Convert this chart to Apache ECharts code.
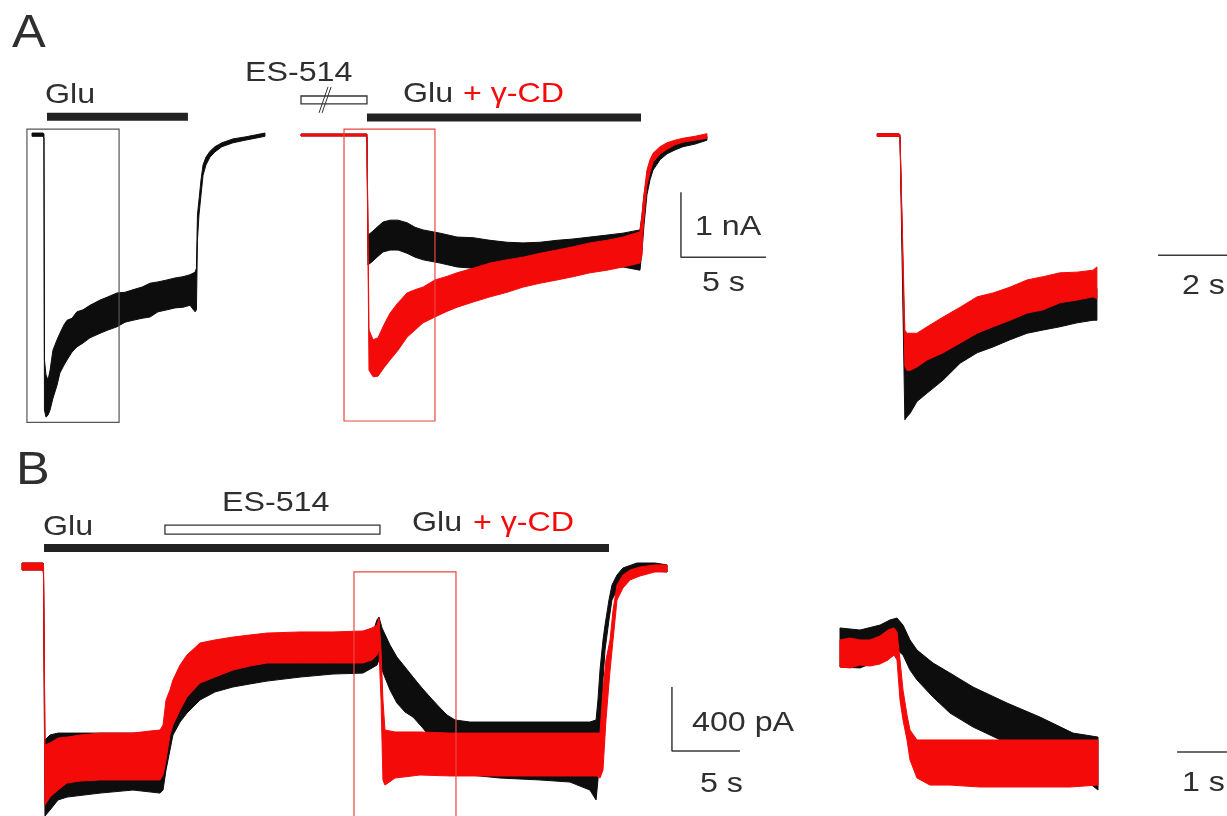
<!DOCTYPE html>
<html>
<head>
<meta charset="utf-8">
<script src="https://cdn.jsdelivr.net/npm/echarts@6/dist/echarts.min.js"></script>
<style>
  html, body { margin: 0; padding: 0; background: #ffffff; }
  #chart { width: 1227px; height: 816px; }
</style>
</head>
<body>
<div id="chart"></div>
<script>
// ---------------- DATA (time in s, current in nA for panel A, pA for panel B) ----------------
// Each noisy trace is described by its upper and lower envelope (hi / lo).

// Panel A, left sweep: Glu alone (black)
const aLeftTime = [0.12, 0.76, 0.82, 0.85, 0.94, 1.06, 1.18, 1.35, 1.59, 1.76, 2.00, 2.18, 2.47, 2.76, 3.12, 3.53, 4.12, 4.59, 5.12, 5.59, 6.06, 6.59, 7.06, 7.53, 8.06, 8.53, 9.00, 9.41, 9.71, 9.79, 9.85, 9.94, 10.06, 10.18, 10.35, 10.59, 10.88, 11.29, 11.94, 12.65, 13.24, 13.82];
const aLeftHi = [0.03, 0.03, 0.02, -3.46, -3.69, -3.77, -3.62, -3.31, -3.15, -3.05, -2.92, -2.85, -2.82, -2.72, -2.69, -2.62, -2.54, -2.49, -2.43, -2.42, -2.38, -2.34, -2.28, -2.26, -2.23, -2.20, -2.18, -2.15, -2.11, -2.05, -1.23, -1.00, -0.69, -0.46, -0.34, -0.25, -0.18, -0.12, -0.06, -0.03, 0.00, 0.03];
const aLeftLo = [-0.02, -0.02, -0.05, -4.23, -4.34, -4.31, -4.23, -4.05, -3.85, -3.66, -3.54, -3.46, -3.34, -3.26, -3.20, -3.12, -3.05, -3.00, -2.95, -2.88, -2.85, -2.82, -2.80, -2.72, -2.69, -2.66, -2.65, -2.62, -2.72, -2.69, -1.62, -1.23, -0.92, -0.62, -0.46, -0.34, -0.26, -0.18, -0.12, -0.08, -0.05, -0.02];

// Panel A, middle sweep after ES-514: Glu (black) and Glu + gamma-CD (red)
const aMidBlackTime = [0, 3.82, 3.88, 3.94, 4.18, 4.47, 4.82, 5.24, 5.71, 6.24, 6.71, 7.18, 8.18, 9.18, 10.12, 11.12, 12.12, 13.06, 14.06, 15.06, 16.0, 17.0, 18.0, 18.94, 19.94, 20.06, 20.18, 20.35, 20.53, 20.71, 21.12, 21.53, 22.0, 22.47, 23.18, 23.88];
const aMidBlackHi = [0.015, 0.015, 0.015, -1.54, -1.49, -1.42, -1.34, -1.31, -1.31, -1.35, -1.42, -1.46, -1.51, -1.57, -1.58, -1.62, -1.65, -1.66, -1.65, -1.62, -1.60, -1.57, -1.54, -1.51, -1.46, -1.23, -0.92, -0.65, -0.49, -0.38, -0.26, -0.18, -0.14, -0.11, -0.06, -0.02];
const aMidBlackLo = [-0.015, -0.015, -0.04, -2.00, -1.95, -1.88, -1.80, -1.77, -1.77, -1.82, -1.88, -1.92, -1.97, -2.03, -2.05, -2.08, -2.11, -2.12, -2.12, -2.12, -2.11, -2.08, -2.05, -2.03, -2.08, -1.77, -1.38, -0.92, -0.69, -0.54, -0.38, -0.29, -0.23, -0.18, -0.14, -0.08];

const aMidRedTime = [0, 3.82, 3.88, 4.0, 4.24, 4.53, 4.88, 5.24, 5.71, 6.24, 6.71, 7.18, 7.88, 8.53, 9.18, 10.12, 11.12, 12.12, 13.06, 14.06, 15.06, 16.0, 17.0, 18.0, 18.94, 19.94, 20.06, 20.12, 20.24, 20.35, 20.53, 20.71, 21.12, 21.53, 22.0, 22.47, 23.18, 23.88];
const aMidRedHi = [0.015, 0.015, 0.015, -3.00, -3.15, -3.12, -2.92, -2.74, -2.58, -2.43, -2.38, -2.34, -2.23, -2.18, -2.12, -2.05, -1.97, -1.92, -1.88, -1.82, -1.77, -1.72, -1.66, -1.62, -1.57, -1.49, -1.23, -1.05, -0.77, -0.54, -0.38, -0.28, -0.18, -0.12, -0.08, -0.05, -0.02, 0.02];
const aMidRedLo = [-0.015, -0.015, -0.04, -3.62, -3.72, -3.71, -3.58, -3.46, -3.31, -3.11, -3.00, -2.89, -2.80, -2.72, -2.65, -2.57, -2.49, -2.42, -2.34, -2.28, -2.23, -2.18, -2.12, -2.08, -2.03, -1.97, -1.85, -1.46, -1.08, -0.77, -0.57, -0.42, -0.29, -0.22, -0.15, -0.11, -0.08, -0.05];

// Panel A, inset (time from Glu onset)
const aInsetTime = [-0.47, -0.02, 0, 0.10, 0.14, 0.21, 0.35, 0.56, 0.89, 1.24, 1.59, 1.92, 2.27, 2.62, 2.95, 3.30, 3.65, 3.98, 4.06];
const aInsetBlackHi = [0.02, 0.02, 0.00, -3.35, -3.40, -3.45, -3.40, -3.20, -3.05, -2.95, -2.85, -2.75, -2.65, -2.55, -2.50, -2.45, -2.40, -2.36, -2.36];
const aInsetBlackLo = [-0.02, -0.02, -0.04, -4.38, -4.34, -4.28, -4.10, -3.97, -3.77, -3.51, -3.35, -3.26, -3.15, -3.05, -3.00, -2.95, -2.89, -2.85, -2.85];
const aInsetRedHi = [0.02, 0.02, 0.00, -3.00, -3.05, -3.05, -3.05, -2.95, -2.80, -2.65, -2.49, -2.43, -2.34, -2.23, -2.18, -2.12, -2.11, -2.08, -2.03];
const aInsetRedLo = [-0.02, -0.02, -0.04, -3.55, -3.62, -3.62, -3.57, -3.46, -3.35, -3.20, -3.05, -2.95, -2.85, -2.74, -2.69, -2.58, -2.54, -2.49, -2.52];

// Panel B, main sweep: Glu -> ES-514 -> Glu (black) or Glu + gamma-CD (red), pA
const bBlackTime = [0, 1.54, 1.58, 1.69, 2.06, 2.65, 3.31, 5.74, 8.16, 10.15, 10.37, 10.59, 10.88, 11.10, 11.62, 12.13, 13.09, 14.19, 15.51, 16.76, 18.01, 20.44, 22.87, 25.07, 25.74, 26.10, 26.25, 26.47, 27.06, 27.57, 28.16, 28.75, 29.41, 30.00, 30.74, 31.25, 31.84, 32.94, 35.15, 38.09, 40.29, 41.76, 42.21, 42.35, 42.50, 42.72, 42.87, 43.16, 43.38, 43.75, 44.19, 45.22, 46.54, 47.43];
const bBlackHi = [25, 25, 19, -1081, -1050, -1038, -1038, -1038, -1038, -1038, -1019, -925, -831, -769, -694, -631, -556, -519, -494, -481, -469, -456, -450, -444, -425, -331, -313, -381, -488, -563, -625, -688, -756, -813, -881, -925, -956, -969, -969, -969, -969, -969, -956, -831, -644, -456, -363, -206, -113, -50, -6, 25, 25, 13];
const bBlackLo = [-19, -19, -44, -1556, -1519, -1456, -1438, -1413, -1394, -1413, -1394, -1269, -1144, -1050, -969, -913, -831, -781, -750, -731, -713, -688, -669, -663, -631, -613, -581, -644, -769, -850, -906, -938, -1000, -1063, -1113, -1144, -1206, -1300, -1319, -1331, -1344, -1394, -1456, -1331, -1081, -706, -519, -331, -206, -144, -81, -31, -25, -31];

const bRedTime = [0, 1.54, 1.58, 1.69, 2.06, 2.65, 3.31, 4.26, 5.74, 7.21, 8.16, 9.41, 10.15, 10.37, 10.59, 10.88, 11.10, 11.62, 12.13, 13.09, 14.19, 15.51, 16.76, 18.01, 20.44, 22.87, 25.07, 25.74, 26.10, 26.25, 26.40, 26.54, 26.69, 27.43, 29.26, 31.47, 33.68, 36.62, 39.56, 42.28, 42.50, 42.72, 42.94, 43.24, 43.46, 43.75, 44.19, 44.71, 45.44, 46.54, 47.43];
const bRedHi = [25, 25, 19, -1113, -1100, -1069, -1063, -1050, -1038, -1038, -1038, -1025, -1019, -988, -831, -769, -706, -613, -550, -475, -456, -438, -425, -413, -406, -406, -400, -381, -363, -319, -519, -831, -1019, -1031, -1031, -1038, -1038, -1038, -1038, -1038, -1038, -769, -581, -456, -269, -113, -50, -19, 0, 13, 13];
const bRedLo = [-19, -19, -31, -1488, -1438, -1394, -1350, -1338, -1331, -1331, -1331, -1331, -1331, -1300, -1206, -1050, -988, -894, -813, -725, -688, -644, -619, -600, -600, -600, -600, -581, -550, -519, -831, -1331, -1363, -1319, -1300, -1306, -1306, -1306, -1306, -1306, -1319, -1269, -956, -644, -456, -206, -131, -81, -56, -31, -31];

// Panel B, inset (boxed region, expanded time)
const bInsetBlackTime = [0, 0.40, 0.80, 1.00, 1.14, 1.26, 1.40, 1.54, 1.86, 2.20, 2.66, 3.34, 4.00, 4.66, 5.16];
const bInsetBlackHi = [-381, -394, -363, -331, -319, -363, -456, -519, -600, -663, -750, -850, -938, -1038, -1063];
const bInsetBlackLo = [-625, -631, -581, -550, -519, -550, -644, -706, -813, -913, -1000, -1100, -1163, -1269, -1394];
const bInsetRedTime = [0, 0.20, 0.40, 0.60, 0.80, 0.96, 1.08, 1.14, 1.20, 1.26, 1.34, 1.40, 1.54, 1.80, 2.20, 2.80, 3.40, 4.00, 4.60, 5.16];
const bInsetRedHi = [-456, -444, -456, -456, -431, -394, -381, -406, -581, -769, -925, -1019, -1081, -1081, -1081, -1081, -1081, -1081, -1081, -1081];
const bInsetRedLo = [-625, -631, -613, -619, -606, -581, -550, -581, -831, -956, -1081, -1206, -1319, -1363, -1363, -1375, -1375, -1375, -1375, -1363];

// Application bars [start s, end s, level]
const aLeftGluBar = [1.0, 9.29, 0.28];
const aMidGluBar = [3.88, 20.0, 0.27];
const bGluBar = [1.62, 43.16, 119];
// ES-514 open bars [t1, y1, t2, y2]
const aMidEsBox = [0, 0.60, 3.88, 0.48];
const bEsBox = [10.51, 262, 26.32, 206];
// Zoom boxes [t1, y1, t2, y2]
const aLeftZoomBox = [-0.18, 0.09, 5.24, -4.42];
const aMidZoomBox = [2.53, 0.09, 7.88, -4.40];
const bZoomBox = [24.41, -31, 31.91, -1700];
// Scale bars: [t0, top y, vertical size, horizontal size]
const aScale = [22.35, -0.88, 1, 5];        // 1 nA, 5 s
const aInsetScale = [5.32, -1.85, 0, 2];    // 2 s
const bScale = [47.79, -750, 400, 5];       // 400 pA, 5 s
const bInsetScale = [6.74, -1156, 0, 1];    // 1 s

// ---------------- CHART ----------------
const RED = '#f50a0a';
const BLACK = '#0d0d0d';
const TEXT = '#2f2f2f';
const FONT = '"Liberation Sans", Arial, Helvetica, sans-serif';

const chart = echarts.init(document.getElementById('chart'), null, { renderer: 'canvas' });

function band(idx, t, hi, lo, color, z) {
  return {
    type: 'custom', xAxisIndex: idx, yAxisIndex: idx, z: z, silent: true, clip: true,
    data: [[t[0], hi[0]]],
    renderItem: function (params, api) {
      const pts = [];
      for (let i = 0; i < t.length; i++) pts.push(api.coord([t[i], hi[i]]));
      for (let i = t.length - 1; i >= 0; i--) pts.push(api.coord([t[i], lo[i]]));
      return { type: 'polygon', shape: { points: pts }, style: { fill: color, stroke: color, lineWidth: 1 } };
    }
  };
}
function box(idx, b, stroke, fill, z, lw) {
  return {
    type: 'custom', xAxisIndex: idx, yAxisIndex: idx, z: z, silent: true, clip: false,
    data: [[b[0], b[1]]],
    renderItem: function (params, api) {
      const p1 = api.coord([b[0], b[1]]);
      const p2 = api.coord([b[2], b[3]]);
      return {
        type: 'rect',
        shape: { x: Math.min(p1[0], p2[0]), y: Math.min(p1[1], p2[1]), width: Math.abs(p2[0] - p1[0]), height: Math.abs(p2[1] - p1[1]) },
        style: { fill: fill, stroke: stroke, lineWidth: lw }
      };
    }
  };
}
function seg(idx, pts, color, width, z) {
  return {
    type: 'line', xAxisIndex: idx, yAxisIndex: idx, z: z, silent: true, symbol: 'none',
    data: pts, lineStyle: { color: color, width: width, cap: 'butt' }, animation: false
  };
}
function bar(idx, b) { return seg(idx, [[b[0], b[2]], [b[1], b[2]]], '#222', 8, 5); }
function lBar(idx, s) {
  const pts = [];
  if (s[2] > 0) pts.push([s[0], s[1]]);
  const cornerY = s[1] - s[2];
  pts.push([s[0], cornerY]);
  pts.push([s[0] + s[3], cornerY]);
  return seg(idx, pts, '#3a3a3a', 1.5, 6);
}

// grids kept inside the 1227x816 canvas
const grids = [
  { left: 19.8, top: 57, width: 255, height: 377 },      // A left    (17 px/s, 65 px/nA)
  { left: 290.8, top: 57, width: 486.2, height: 377 },   // A middle
  { left: 861.2, top: 57, width: 365.8, height: 377 },   // A inset   (48.5 px/s)
  { left: 15.2, top: 487, width: 741.2, height: 329 },   // B main    (13.6 px/s, 0.16 px/pA)
  { left: 820, top: 487, width: 407, height: 329 }       // B inset   (50 px/s)
];
const xr = [[-0.6, 14.4], [-0.6, 28.0], [-0.8, 6.742], [-0.5, 54.0], [-0.4, 7.74]];
const yr = [[-4.6, 1.2], [-4.6, 1.2], [-4.6, 1.2], [-1556.25, 500], [-1556.25, 500]];

const option = {
  animation: false,
  backgroundColor: '#ffffff',
  grid: grids.map(g => Object.assign({ containLabel: false }, g)),
  xAxis: xr.map((r, i) => ({ type: 'value', gridIndex: i, min: r[0], max: r[1], show: false })),
  yAxis: yr.map((r, i) => ({ type: 'value', gridIndex: i, min: r[0], max: r[1], show: false })),
  series: [
    // A left
    band(0, aLeftTime, aLeftHi, aLeftLo, BLACK, 3),
    bar(0, aLeftGluBar),
    box(0, aLeftZoomBox, '#555555', 'none', 8, 1.2),
    // A middle
    band(1, aMidBlackTime, aMidBlackHi, aMidBlackLo, BLACK, 3),
    band(1, aMidRedTime, aMidRedHi, aMidRedLo, RED, 4),
    bar(1, aMidGluBar),
    box(1, aMidEsBox, '#333333', '#ffffff', 5, 1.3),
    seg(1, [[1.06, 0.34], [1.59, 0.74]], '#333', 1, 7),
    seg(1, [[1.24, 0.34], [1.77, 0.74]], '#333', 1, 7),
    box(1, aMidZoomBox, '#e8463f', 'none', 8, 1.2),
    lBar(1, aScale),
    // A inset
    band(2, aInsetTime, aInsetBlackHi, aInsetBlackLo, BLACK, 3),
    band(2, aInsetTime, aInsetRedHi, aInsetRedLo, RED, 4),
    lBar(2, aInsetScale),
    // B main
    band(3, bBlackTime, bBlackHi, bBlackLo, BLACK, 3),
    band(3, bRedTime, bRedHi, bRedLo, RED, 4),
    bar(3, bGluBar),
    box(3, bEsBox, '#333333', '#ffffff', 5, 1.3),
    box(3, bZoomBox, '#e8463f', 'none', 8, 1.2),
    lBar(3, bScale),
    // B inset
    band(4, bInsetBlackTime, bInsetBlackHi, bInsetBlackLo, BLACK, 3),
    band(4, bInsetRedTime, bInsetRedHi, bInsetRedLo, RED, 4),
    lBar(4, bInsetScale)
  ]
};

function txt(x, y, text, size, color, sx) {
  return {
    type: 'text', x: x, y: y, scaleX: sx || 1.15, silent: true, z: 100,
    style: { text: text, fill: color || TEXT, fontSize: size, fontFamily: FONT, align: 'left', verticalAlign: 'middle' }
  };
}
option.graphic = [
  txt(12, 34, 'A', 46, TEXT, 1.1),
  txt(45, 95, 'Glu', 28),
  txt(245, 73, 'ES-514', 28),
  txt(403, 94.5, 'Glu', 28),
  txt(463, 94.5, '+ \u03B3-CD', 28, RED),
  txt(695, 227, '1 nA', 28),
  txt(702, 283, '5 s', 28),
  txt(1182, 286, '2 s', 28),
  txt(16, 471, 'B', 46, TEXT, 1.1),
  txt(43, 527.5, 'Glu', 28),
  txt(222, 503, 'ES-514', 28),
  txt(412, 523, 'Glu', 28),
  txt(473, 523, '+ \u03B3-CD', 28, RED),
  txt(692, 723, '400 pA', 28),
  txt(700, 784, '5 s', 28),
  txt(1182, 783, '1 s', 28)
];

chart.setOption(option);
</script>
</body>
</html>
